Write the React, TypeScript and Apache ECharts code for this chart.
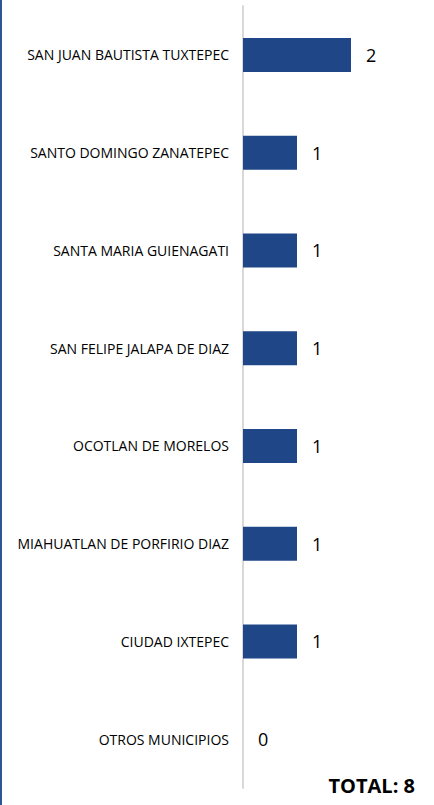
import React, { useEffect, useRef } from "react";
import * as echarts from "echarts";

const categories = [
  "SAN JUAN BAUTISTA TUXTEPEC",
  "SANTO DOMINGO ZANATEPEC",
  "SANTA MARIA GUIENAGATI",
  "SAN FELIPE JALAPA DE DIAZ",
  "OCOTLAN DE MORELOS",
  "MIAHUATLAN DE PORFIRIO DIAZ",
  "CIUDAD IXTEPEC",
  "OTROS MUNICIPIOS",
];
const values = [2, 1, 1, 1, 1, 1, 1, 0];
const totalLabel = "TOTAL: 8";

export default function App() {
  const ref = useRef<HTMLDivElement>(null);
  useEffect(() => {
    if (!ref.current) return;
    const chart = echarts.init(ref.current, null, { renderer: "svg" });
    chart.setOption({
      animation: false,
      grid: { left: 243, right: 2, top: 6, bottom: 17, containLabel: false },
      xAxis: {
        type: "value",
        min: 0,
        max: 3.5,
        show: false,
      },
      yAxis: {
        type: "category",
        data: categories,
        inverse: true,
        axisLine: { show: true, lineStyle: { color: "#d9d9d9", width: 2 } },
        axisTick: { show: false },
        axisLabel: {
          margin: 14,
          color: "#000",
          fontFamily: "Open Sans",
          fontSize: 14,
        },
      },
      series: [
        {
          type: "bar",
          data: values,
          barWidth: 34,
          itemStyle: { color: "#1F4788" },
          label: {
            show: true,
            position: "right",
            distance: 15,
            color: "#000",
            fontFamily: "Open Sans",
            fontSize: 18,
          },
        },
      ],
      graphic: [
        {
          type: "line",
          shape: { x1: 1, y1: 0, x2: 1, y2: 805 },
          style: { stroke: "#2F5597", lineWidth: 2 },
        },
        {
          type: "text",
          x: 415,
          y: 785,
          style: {
            text: totalLabel,
            fontFamily: "Open Sans",
            fontWeight: "bold",
            fontSize: 20,
            fill: "#000",
            textAlign: "right",
            textVerticalAlign: "middle",
          },
        },
      ],
    });
    return () => chart.dispose();
  }, []);
  return (
    <div
      ref={ref}
      style={{ position: "fixed", left: 0, top: 0, width: 434, height: 805, background: "#fff" }}
    />
  );
}
